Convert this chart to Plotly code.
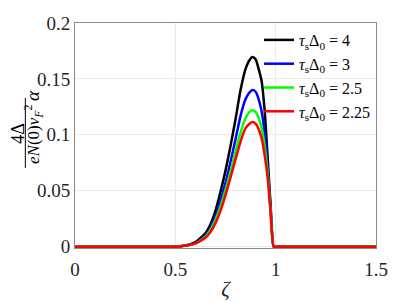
import plotly.graph_objects as go

# values
zeta = [0, 0.25, 0.45, 0.5, 0.55, 0.6, 0.65, 0.675, 0.7, 0.725, 0.75, 0.775, 0.8, 0.825,
        0.85, 0.87, 0.885, 0.9, 0.915, 0.93, 0.945, 0.96, 0.975, 0.99, 1.0, 1.25, 1.5]

alpha_4 = [0, 0, 0, 0, 0.001, 0.004, 0.012, 0.020, 0.032, 0.049, 0.068, 0.090, 0.114, 0.140,
           0.159, 0.167, 0.1695, 0.1675, 0.159, 0.148, 0.122, 0.080, 0.036, 0, 0, 0, 0]
alpha_3 = [0, 0, 0, 0, 0.001, 0.003, 0.010, 0.017, 0.027, 0.041, 0.057, 0.076, 0.096, 0.117,
           0.132, 0.138, 0.140, 0.1385, 0.132, 0.121, 0.102, 0.072, 0.033, 0, 0, 0, 0]
alpha_25 = [0, 0, 0, 0, 0.001, 0.003, 0.009, 0.015, 0.024, 0.036, 0.051, 0.067, 0.085, 0.102,
            0.115, 0.1205, 0.122, 0.1205, 0.115, 0.106, 0.090, 0.066, 0.031, 0, 0, 0, 0]
alpha_225 = [0, 0, 0, 0, 0.001, 0.003, 0.008, 0.013, 0.021, 0.032, 0.046, 0.062, 0.078, 0.094,
             0.106, 0.110, 0.1115, 0.110, 0.105, 0.097, 0.082, 0.062, 0.030, 0, 0, 0, 0]

series = [
    ('4', alpha_4, '#000000'),
    ('3', alpha_3, '#0000ff'),
    ('2.5', alpha_25, '#00ff00'),
    ('2.25', alpha_225, '#ff0000'),
]

x_ticks = [0, 0.5, 1, 1.5]
x_ticktext = ['0', '0.5', '1', '1.5']
y_ticks = [0, 0.05, 0.1, 0.15, 0.2]
y_ticktext = ['0', '0.05', '0.1', '0.15', '0.2']

SERIF = 'Liberation Serif, Times New Roman, DejaVu Serif, serif'
INK = '#262626'

fig = go.Figure()
for label, vals, col in series:
    fig.add_trace(go.Scatter(
        x=zeta, y=vals, mode='lines',
        name=f'<i>τ</i><sub>s</sub>Δ<sub>0</sub> = {label}',
        line=dict(color=col, width=2.5, shape='spline', smoothing=0.6),
    ))

# y-axis label drawn as a rotated fraction (page has an 8px body margin,
# so the figure is 407x294 and sits at 8,8)
lbl = dict(xref='paper', yref='paper', textangle=-90, showarrow=False,
           xanchor='center', yanchor='middle')
fig.add_annotation(x=-0.188, y=0.51, text='4Δ',
                   font=dict(family=SERIF, size=18, color='black'), **lbl)
fig.add_shape(type='line', xref='paper', yref='paper',
              x0=-0.165, x1=-0.165, y0=0.356, y1=0.667,
              line=dict(color='black', width=1))
fig.add_annotation(x=-0.136, y=0.507,
                   text='<i>eN</i>(0)<i>v</i><sub><i>F</i></sub><sup>2</sup>',
                   font=dict(family=SERIF, size=17, color='black'), **lbl)
fig.add_annotation(x=-0.142, y=0.677, text='<i>α</i>',
                   font=dict(family=SERIF, size=19, color='black'), **lbl)

fig.update_layout(
    width=407, height=294,
    margin=dict(l=67, r=39, t=15, b=54),
    plot_bgcolor='white', paper_bgcolor='white',
    font=dict(family=SERIF, color=INK),
    legend=dict(x=1, y=1, xanchor='right', yanchor='top',
                bgcolor='rgba(255,255,255,0)', borderwidth=0, itemwidth=30,
                font=dict(family=SERIF, size=16, color='black'),
                tracegroupgap=0),
    xaxis=dict(title=dict(text='<i>ζ</i>', font=dict(size=21, color=INK), standoff=2),
               range=[0, 1.5], tickvals=x_ticks, ticktext=x_ticktext,
               tickfont=dict(size=19, color=INK), ticklabelstandoff=4,
               showgrid=True, gridcolor='#ebebeb',
               showline=True, linecolor='#8a8a8a', linewidth=1, mirror=True,
               zeroline=False, ticks='', automargin=False),
    yaxis=dict(range=[-0.0012, 0.2], tickvals=y_ticks, ticktext=y_ticktext,
               tickfont=dict(size=19, color=INK), showgrid=True, gridcolor='#ebebeb',
               showline=True, linecolor='#8a8a8a', linewidth=1, mirror=True,
               zeroline=False, ticks='', automargin=False),
)

fig.write_html('out.html')
